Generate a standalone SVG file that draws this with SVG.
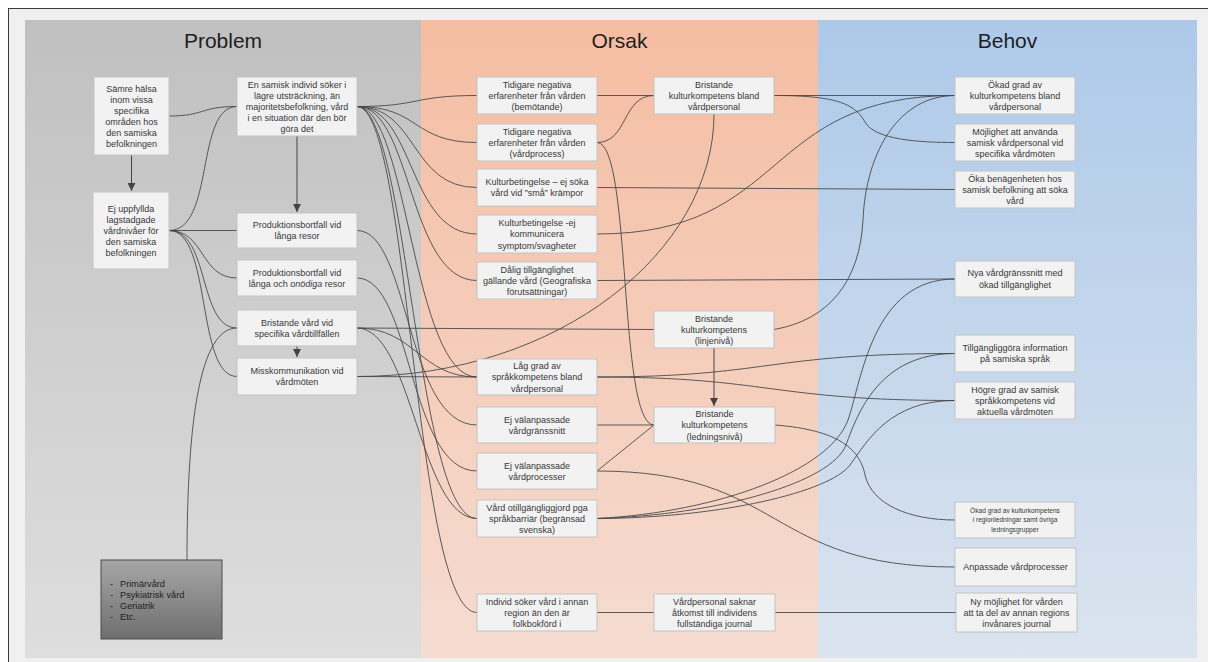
<svg xmlns="http://www.w3.org/2000/svg" width="1208" height="662" viewBox="0 0 1208 662">
  <defs>
    <linearGradient id="gProblem" x1="0" y1="0" x2="0" y2="1">
      <stop offset="0" stop-color="#c0c0c0"/>
      <stop offset="1" stop-color="#dedede"/>
    </linearGradient>
    <linearGradient id="gOrsak" x1="0" y1="0" x2="0" y2="1">
      <stop offset="0" stop-color="#f5bda2"/>
      <stop offset="1" stop-color="#f5dcd1"/>
    </linearGradient>
    <linearGradient id="gBehov" x1="0" y1="0" x2="0" y2="1">
      <stop offset="0" stop-color="#adc9e9"/>
      <stop offset="1" stop-color="#dbe4ef"/>
    </linearGradient>
    <linearGradient id="gDark" x1="0" y1="0" x2="0" y2="1">
      <stop offset="0" stop-color="#a6a6a6"/>
      <stop offset="1" stop-color="#6f6f6f"/>
    </linearGradient>
    <marker id="arrow" viewBox="0 0 8 8" refX="8" refY="4" markerWidth="8" markerHeight="8" markerUnits="userSpaceOnUse" orient="auto">
      <path d="M0,0 L8,4 L0,8 z" fill="#444"/>
    </marker>
    <style>
      .title { font-family: "Liberation Sans", Arial, sans-serif; font-size: 21px; fill: #1e1e1e; text-anchor: middle; }
      .box { fill: #f2f2f2; stroke: #c4c4c4; stroke-width: 1; }
      .t { font-family: "Liberation Sans", Arial, sans-serif; font-size: 9px; fill: #383838; text-anchor: middle; }
      .ts { font-family: "Liberation Sans", Arial, sans-serif; font-size: 6.6px; fill: #383838; text-anchor: middle; }
      .list { font-family: "Liberation Sans", Arial, sans-serif; font-size: 9.2px; fill: #222; }
      .c { fill: none; stroke: #4a4a4a; stroke-width: 0.9; }
      .a { fill: none; stroke: #444; stroke-width: 1; marker-end: url(#arrow); }
    </style>
  </defs>

  <!-- page frame -->
  <rect x="0" y="0" width="1208" height="662" fill="#ffffff"/>
  <rect x="8.5" y="8.5" width="1210" height="665" fill="#f0f0f0" stroke="#3c3c3c" stroke-width="1"/>

  <!-- column bands -->
  <rect x="25" y="20" width="396" height="638" fill="url(#gProblem)"/>
  <rect x="421" y="20" width="397" height="638" fill="url(#gOrsak)"/>
  <rect x="818" y="20" width="379" height="638" fill="url(#gBehov)"/>
  <text class="title" x="223" y="48">Problem</text>
  <text class="title" x="619.5" y="48">Orsak</text>
  <text class="title" x="1007.5" y="48">Behov</text>

  <!-- connectors -->
  <g id="connectors">
    <path class="a" d="M131.5,155 L131.5,191"/>
    <path class="a" d="M297,136 L297,212"/>
    <path class="a" d="M297,346 L297,357"/>
    <path class="a" d="M714,348 L714,406"/>

    <path class="c" d="M169,116 C205,116 200,106.5 237,106.5"/>
    <path class="c" d="M169,230.5 C215,230.5 195,106.5 237,106.5"/>
    <path class="c" d="M169,230.5 L237,230.5"/>
    <path class="c" d="M169,230.5 C205,230.5 200,278 237,278"/>
    <path class="c" d="M169,230.5 C210,230.5 198,328 237,328"/>
    <path class="c" d="M169,230.5 C212,230.5 196,376.5 237,376.5"/>
    <path class="c" d="M187,560 C187,420 200,328 237,328"/>

    <path class="c" d="M357,106.5 C420,106.5 412,95.5 477,95.5"/>
    <path class="c" d="M357,106.5 C420,106.5 412,142.5 477,142.5"/>
    <path class="c" d="M357,106.5 C418,106.5 410,187.5 477,187.5"/>
    <path class="c" d="M357,106.5 C415,106.5 408,234 477,234"/>
    <path class="c" d="M357,106.5 C412,106.5 408,280.5 477,280.5"/>
    <path class="c" d="M357,106.5 C408,106.5 412,377 477,377"/>
    <path class="c" d="M357,106.5 C408,106.5 416,518.5 477,518.5"/>
    <path class="c" d="M357,106.5 C410,106.5 414,612.5 477,612.5"/>
    <path class="c" d="M357,230.5 C410,230.5 405,425 477,425"/>
    <path class="c" d="M357,278 C412,278 408,471 477,471"/>
    <path class="c" d="M357,328 C415,328 420,377 477,377"/>
    <path class="c" d="M357,328 C412,328 420,518.5 477,518.5"/>
    <path class="c" d="M357,328 L654,329.5"/>
    <path class="c" d="M357,376.5 L477,377"/>
    <path class="c" d="M357,376.5 C560,376.5 714,250 714,114"/>

    <path class="c" d="M597,95.5 L654,95.5"/>
    <path class="c" d="M597,142.5 C628,142.5 622,95.5 654,95.5"/>
    <path class="c" d="M597,142.5 C632,142.5 618,425 654,425"/>
    <path class="c" d="M597,187.5 L955,189.5"/>
    <path class="c" d="M597,234 C790,234 760,95.5 955,95.5"/>
    <path class="c" d="M597,280.5 L955,279"/>
    <path class="c" d="M597,377 C770,377 765,353.5 955,353.5"/>
    <path class="c" d="M597,377 C770,377 770,400.5 955,400.5"/>
    <path class="c" d="M597,425 L654,425"/>
    <path class="c" d="M597,471 L654,425"/>
    <path class="c" d="M597,471 C785,471 765,567 955,567"/>
    <path class="c" d="M597,518.5 C720,512 830,470 848,420 C862,380 872,279 955,279"/>
    <path class="c" d="M597,518.5 C720,515 832,482 846,445 C858,412 880,353.5 955,353.5"/>
    <path class="c" d="M597,518.5 C720,518 830,492 850,465 C868,440 890,400.5 955,400.5"/>
    <path class="c" d="M597,612.5 L654,612.5"/>

    <path class="c" d="M774,95.5 L955,95.5"/>
    <path class="c" d="M774,95.5 C840,95.5 855,105 865,122 C875,140 920,142.5 955,142.5"/>
    <path class="c" d="M774,329.5 C830,320 860,280 863,220 C866,150 900,95.5 955,95.5"/>
    <path class="c" d="M775,425 C840,430 860,450 865,475 C872,505 910,520 955,520"/>
    <path class="c" d="M774,612.5 L956,612.5"/>
  </g>

  <!-- Problem column -->
  <g id="p-halsa">
    <rect class="box" x="94" y="77" width="75" height="78"/>
    <text class="t"><tspan x="131.5" y="91.8">Sämre hälsa</tspan><tspan x="131.5" y="102.8">inom vissa</tspan><tspan x="131.5" y="113.8">specifika</tspan><tspan x="131.5" y="124.8">områden hos</tspan><tspan x="131.5" y="135.8">den samiska</tspan><tspan x="131.5" y="146.8">befolkningen</tspan></text>
  </g>
  <g id="p-soker">
    <rect class="box" x="237" y="77" width="120" height="59"/>
    <text class="t"><tspan x="297" y="87.8">En samisk individ söker i</tspan><tspan x="297" y="98.8">lägre utsträckning, än</tspan><tspan x="297" y="109.8">majoritetsbefolkning, vård</tspan><tspan x="297" y="120.8">i en situation där den bör</tspan><tspan x="297" y="131.8">göra det</tspan></text>
  </g>
  <g id="p-vardnivaer">
    <rect class="box" x="93" y="192" width="76" height="77"/>
    <text class="t"><tspan x="131" y="211.8">Ej uppfyllda</tspan><tspan x="131" y="222.8">lagstadgade</tspan><tspan x="131" y="233.8">vårdnivåer för</tspan><tspan x="131" y="244.8">den samiska</tspan><tspan x="131" y="255.8">befolkningen</tspan></text>
  </g>
  <g id="p-resor">
    <rect class="box" x="237" y="213" width="120" height="35"/>
    <text class="t"><tspan x="297" y="228.3">Produktionsbortfall vid</tspan><tspan x="297" y="239.3">långa resor</tspan></text>
  </g>
  <g id="p-onodiga">
    <rect class="box" x="237" y="260" width="120" height="36"/>
    <text class="t"><tspan x="297" y="275.8">Produktionsbortfall vid</tspan><tspan x="297" y="286.8">långa och <tspan font-style="italic">onödiga</tspan> resor</tspan></text>
  </g>
  <g id="p-bristande-vard">
    <rect class="box" x="237" y="310" width="120" height="36"/>
    <text class="t"><tspan x="297" y="325.8">Bristande vård vid</tspan><tspan x="297" y="336.8">specifika vårdtillfällen</tspan></text>
  </g>
  <g id="p-misskommunikation">
    <rect class="box" x="237" y="358" width="120" height="37"/>
    <text class="t"><tspan x="297" y="374.3">Misskommunikation vid</tspan><tspan x="297" y="385.3">vårdmöten</tspan></text>
  </g>
  <g id="p-vardformer">
    <rect x="101" y="560" width="121" height="79" fill="url(#gDark)" stroke="#4d4d4d" stroke-width="1"/>
    <text class="list"><tspan x="110" y="586.5">-</tspan><tspan x="120" y="586.5">Primärvård</tspan><tspan x="110" y="597.8">-</tspan><tspan x="120" y="597.8">Psykiatrisk vård</tspan><tspan x="110" y="609.1">-</tspan><tspan x="120" y="609.1">Geriatrik</tspan><tspan x="110" y="620.4">-</tspan><tspan x="120" y="620.4">Etc.</tspan></text>
  </g>

  <!-- Orsak column -->
  <g id="o-bemotande">
    <rect class="box" x="477" y="77" width="120" height="37"/>
    <text class="t"><tspan x="537" y="87.6">Tidigare negativa</tspan><tspan x="537" y="98.8">erfarenheter från vården</tspan><tspan x="537" y="110">(bemötande)</tspan></text>
  </g>
  <g id="o-vardprocess">
    <rect class="box" x="477" y="124" width="120" height="37"/>
    <text class="t"><tspan x="537" y="134.6">Tidigare negativa</tspan><tspan x="537" y="145.8">erfarenheter från vården</tspan><tspan x="537" y="157">(vårdprocess)</tspan></text>
  </g>
  <g id="o-kramper">
    <rect class="box" x="477" y="169" width="120" height="37"/>
    <text class="t"><tspan x="537" y="185.2">Kulturbetingelse – ej söka</tspan><tspan x="537" y="196.4">vård vid ”små” krämpor</tspan></text>
  </g>
  <g id="o-symptom">
    <rect class="box" x="477" y="215" width="120" height="38"/>
    <text class="t"><tspan x="537" y="226.1">Kulturbetingelse -ej</tspan><tspan x="537" y="237.3">kommunicera</tspan><tspan x="537" y="248.5">symptom/svagheter</tspan></text>
  </g>
  <g id="o-tillganglighet">
    <rect class="box" x="477" y="262" width="120" height="37"/>
    <text class="t"><tspan x="537" y="272.6">Dålig tillgänglighet</tspan><tspan x="537" y="283.8">gällande vård (Geografiska</tspan><tspan x="537" y="295">förutsättningar)</tspan></text>
  </g>
  <g id="o-sprakkompetens">
    <rect class="box" x="477" y="359" width="120" height="36"/>
    <text class="t"><tspan x="537" y="369.1">Låg grad av</tspan><tspan x="537" y="380.3">språkkompetens bland</tspan><tspan x="537" y="391.5">vårdpersonal</tspan></text>
  </g>
  <g id="o-vardgranssnitt">
    <rect class="box" x="477" y="407" width="120" height="36"/>
    <text class="t"><tspan x="537" y="422.7">Ej välanpassade</tspan><tspan x="537" y="433.9">vårdgränssnitt</tspan></text>
  </g>
  <g id="o-vardprocesser">
    <rect class="box" x="477" y="453" width="120" height="36"/>
    <text class="t"><tspan x="537" y="468.7">Ej välanpassade</tspan><tspan x="537" y="479.9">vårdprocesser</tspan></text>
  </g>
  <g id="o-sprakbarriar">
    <rect class="box" x="477" y="500" width="120" height="37"/>
    <text class="t"><tspan x="537" y="510.6">Vård otillgängliggjord pga</tspan><tspan x="537" y="521.8">språkbarriär (begränsad</tspan><tspan x="537" y="533">svenska)</tspan></text>
  </g>
  <g id="o-annan-region">
    <rect class="box" x="477" y="594" width="120" height="37"/>
    <text class="t"><tspan x="537" y="604.6">Individ söker vård i annan</tspan><tspan x="537" y="615.8">region än den är</tspan><tspan x="537" y="627">folkbokförd i</tspan></text>
  </g>
  <g id="o-kultur-vardpersonal">
    <rect class="box" x="654" y="77" width="120" height="37"/>
    <text class="t"><tspan x="714" y="87.6">Bristande</tspan><tspan x="714" y="98.8">kulturkompetens bland</tspan><tspan x="714" y="110">vårdpersonal</tspan></text>
  </g>
  <g id="o-kultur-linje">
    <rect class="box" x="654" y="311" width="120" height="37"/>
    <text class="t"><tspan x="714" y="321.6">Bristande</tspan><tspan x="714" y="332.8">kulturkompetens</tspan><tspan x="714" y="344">(linjenivå)</tspan></text>
  </g>
  <g id="o-kultur-ledning">
    <rect class="box" x="654" y="407" width="121" height="36"/>
    <text class="t"><tspan x="714.5" y="417.1">Bristande</tspan><tspan x="714.5" y="428.3">kulturkompetens</tspan><tspan x="714.5" y="439.5">(ledningsnivå)</tspan></text>
  </g>
  <g id="o-journal">
    <rect class="box" x="654" y="594" width="121" height="37"/>
    <text class="t"><tspan x="714.5" y="604.6">Vårdpersonal saknar</tspan><tspan x="714.5" y="615.8">åtkomst till individens</tspan><tspan x="714.5" y="627">fullständiga journal</tspan></text>
  </g>

  <!-- Behov column -->
  <g id="b-kultur-vardpersonal">
    <rect class="box" x="955" y="77" width="120" height="37"/>
    <text class="t"><tspan x="1015" y="87.6">Ökad grad av</tspan><tspan x="1015" y="98.8">kulturkompetens bland</tspan><tspan x="1015" y="110">vårdpersonal</tspan></text>
  </g>
  <g id="b-samisk-personal">
    <rect class="box" x="955" y="124" width="120" height="37"/>
    <text class="t"><tspan x="1015" y="134.6">Möjlighet att använda</tspan><tspan x="1015" y="145.8">samisk vårdpersonal vid</tspan><tspan x="1015" y="157">specifika vårdmöten</tspan></text>
  </g>
  <g id="b-benagenhet">
    <rect class="box" x="955" y="171" width="120" height="37"/>
    <text class="t"><tspan x="1015" y="181.6">Öka benägenheten hos</tspan><tspan x="1015" y="192.8">samisk befolkning att söka</tspan><tspan x="1015" y="204">vård</tspan></text>
  </g>
  <g id="b-vardgranssnitt">
    <rect class="box" x="955" y="261" width="120" height="36"/>
    <text class="t"><tspan x="1015" y="276.4">Nya vårdgränssnitt med</tspan><tspan x="1015" y="287.6">ökad tillgänglighet</tspan></text>
  </g>
  <g id="b-information">
    <rect class="box" x="955" y="335" width="120" height="37"/>
    <text class="t"><tspan x="1015" y="351.2">Tillgängliggöra information</tspan><tspan x="1015" y="362.4">på samiska språk</tspan></text>
  </g>
  <g id="b-sprakkompetens">
    <rect class="box" x="955" y="382" width="120" height="37"/>
    <text class="t"><tspan x="1015" y="392.6">Högre grad av samisk</tspan><tspan x="1015" y="403.8">språkkompetens vid</tspan><tspan x="1015" y="415">aktuella vårdmöten</tspan></text>
  </g>
  <g id="b-regionledningar">
    <rect class="box" x="955" y="502" width="120" height="36"/>
    <text class="ts"><tspan x="1015" y="512.6">Ökad grad av kulturkompetens</tspan><tspan x="1015" y="522.3">i regionledningar samt övriga</tspan><tspan x="1015" y="532">ledningsgrupper</tspan></text>
  </g>
  <g id="b-vardprocesser">
    <rect class="box" x="955" y="548" width="121" height="38"/>
    <text class="t"><tspan x="1015.5" y="570.3">Anpassade vårdprocesser</tspan></text>
  </g>
  <g id="b-journal">
    <rect class="box" x="956" y="593" width="121" height="39"/>
    <text class="t"><tspan x="1016.5" y="604.6">Ny möjlighet för vården</tspan><tspan x="1016.5" y="615.8">att ta del av annan regions</tspan><tspan x="1016.5" y="627">invånares journal</tspan></text>
  </g>
</svg>
